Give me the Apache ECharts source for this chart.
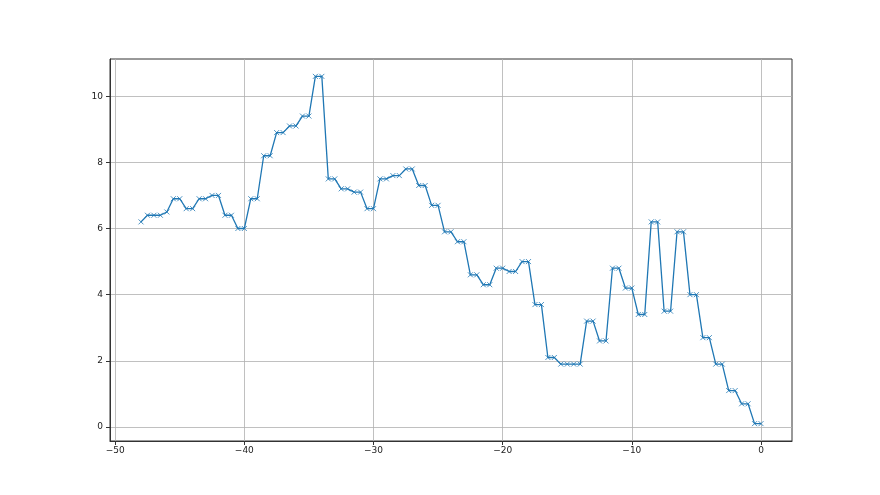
<!DOCTYPE html>
<html>
<head>
<meta charset="utf-8">
<script src="https://cdn.jsdelivr.net/npm/echarts@6/dist/echarts.min.js"></script>
<style>html,body{margin:0;padding:0;background:#fff}#c{width:880px;height:495px}</style>
</head>
<body>
<div id="c"></div>
<script>
const xValues = [-48,-47.5,-47,-46.5,-46,-45.5,-45,-44.5,-44,-43.5,-43,-42.5,-42,-41.5,-41,-40.5,-40,-39.5,-39,-38.5,-38,-37.5,-37,-36.5,-36,-35.5,-35,-34.5,-34,-33.5,-33,-32.5,-32,-31.5,-31,-30.5,-30,-29.5,-29,-28.5,-28,-27.5,-27,-26.5,-26,-25.5,-25,-24.5,-24,-23.5,-23,-22.5,-22,-21.5,-21,-20.5,-20,-19.5,-19,-18.5,-18,-17.5,-17,-16.5,-16,-15.5,-15,-14.5,-14,-13.5,-13,-12.5,-12,-11.5,-11,-10.5,-10,-9.5,-9,-8.5,-8,-7.5,-7,-6.5,-6,-5.5,-5,-4.5,-4,-3.5,-3,-2.5,-2,-1.5,-1,-0.5,0];
const yValues = [6.2,6.4,6.4,6.4,6.5,6.9,6.9,6.6,6.6,6.9,6.9,7.0,7.0,6.4,6.4,6.0,6.0,6.9,6.9,8.2,8.2,8.9,8.9,9.1,9.1,9.4,9.4,10.6,10.6,7.5,7.5,7.2,7.2,7.1,7.1,6.6,6.6,7.5,7.5,7.6,7.6,7.8,7.8,7.3,7.3,6.7,6.7,5.9,5.9,5.6,5.6,4.6,4.6,4.3,4.3,4.8,4.8,4.7,4.7,5.0,5.0,3.7,3.7,2.1,2.1,1.9,1.9,1.9,1.9,3.2,3.2,2.6,2.6,4.8,4.8,4.2,4.2,3.4,3.4,6.2,6.2,3.5,3.5,5.9,5.9,4.0,4.0,2.7,2.7,1.9,1.9,1.1,1.1,0.7,0.7,0.1,0.1];
const xTicks = [-50,-40,-30,-20,-10,0];
const yTicks = [0,2,4,6,8,10];

const chart = echarts.init(document.getElementById('c'), null, {renderer:'canvas'});
const data = xValues.map((x,i)=>[x,yValues[i]]);
const lblStyle = {color:'#222', fontFamily:'DejaVu Sans', fontSize:9};
const minus = v => String(v).replace('-', '\u2212');
chart.setOption({
  animation:false,
  backgroundColor:'#fff',
  grid:{left:110,right:88,top:59,bottom:54,show:true,borderColor:'#333',borderWidth:1,backgroundColor:'transparent'},
  xAxis:{type:'value',min:-50.4,max:2.4,
    axisLine:{show:true,onZero:false,lineStyle:{color:'#333',width:1}},
    axisTick:{show:true,length:4,customValues:xTicks,lineStyle:{color:'#333'}},
    axisLabel:{customValues:xTicks,margin:5,formatter:minus,...lblStyle},
    splitLine:{show:true,lineStyle:{color:'#b0b0b0',width:0.8}}},
  yAxis:{type:'value',min:-0.425,max:11.125,
    axisLine:{show:true,onZero:false,lineStyle:{color:'#333',width:1}},
    axisTick:{show:true,length:4,customValues:yTicks,lineStyle:{color:'#333'}},
    axisLabel:{customValues:yTicks,margin:7,formatter:minus,...lblStyle},
    splitLine:{show:true,lineStyle:{color:'#b0b0b0',width:0.8}}},
  series:[{type:'line',data:data,
    lineStyle:{color:'#1f77b4',width:1.3},
    symbol:'path://M0,0L10,10M10,0L0,10',symbolSize:5,
    itemStyle:{color:'none',borderColor:'#1f77b4',borderWidth:0.8},
    showSymbol:true}]
});
</script>
</body>
</html>
